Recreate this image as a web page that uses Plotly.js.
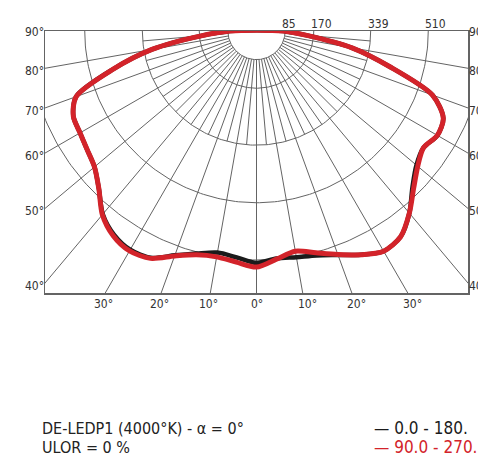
<!DOCTYPE html>
<html><head><meta charset="utf-8">
<script src="https://cdn.plot.ly/plotly-3.0.1.min.js"></script>
<style>html,body{margin:0;padding:0;background:#fff;}</style>
</head><body><div id="chart" style="width:478px;height:469px;"></div>
<script>
// ---- data (luminous intensity, cd, vs. gamma angle in degrees; negative = left half) ----
const gammaAngles = [-90,-85,-80,-75,-70,-65,-60,-55,-50,-45,-40,-35,-30,-25,-20,-15,-10,-5,0,5,10,15,20,25,30,35,40,45,50,55,60,65,70,75,80,85,90];
const intensityC0_180 = [79,165,315,443,570,600,605,614,628,662,710,738,750,743,709,684,668,675,689,678,682,690,708,733,755,746,706,655,620,605,620,612,556,410,288,150,79];
const intensityC90_270 = [79,165,315,443,570,600,605,614,628,662,712,742,754,745,711,688,681,689,701,680,664,682,706,733,755,746,706,660,625,605,620,612,556,410,288,150,79];
const seriesNames = ['0.0 - 180.', '90.0 - 270.'];
const seriesColors = ['#1b1b1b', '#d3232a'];
// grid
const circleValues = [85, 170, 339, 510, 680];
const circleLabels = ['85', '170', '339', '510'];
const majorAngles = [-80,-70,-60,-50,-40,-30,-20,-10,0,10,20,30,40,50,60,70,80];
const minorAngles = [-85,-75,-65,-55,-45,-35,-25,-15,-5,5,15,25,35,45,55,65,75,85];
const bottomAngleLabels = [-30,-20,-10,0,10,20,30];
const sideAngleLabels = [40,50,60,70,80,90];
const titleLine1 = 'DE-LEDP1 (4000°K) - α = 0°';
const titleLine2 = 'ULOR = 0 %';

const X_HALF = 628, Y_DEPTH = 778;
const rad = d => d * Math.PI / 180;
const px = (g, r) => r * Math.sin(rad(g));
const py = (g, r) => -r * Math.cos(rad(g));

// grid geometry
const gx = [], gy = [];
circleValues.forEach(r => {
  for (let g = -90; g <= 90; g += 1) { gx.push(px(g, r)); gy.push(py(g, r)); }
  gx.push(null); gy.push(null);
});
majorAngles.forEach(g => {
  gx.push(px(g, circleValues[0]), px(g, 2000), null);
  gy.push(py(g, circleValues[0]), py(g, 2000), null);
});
minorAngles.forEach(g => {
  gx.push(px(g, circleValues[0]), px(g, circleValues[2]), null);
  gy.push(py(g, circleValues[0]), py(g, circleValues[2]), null);
});

const traces = [{
  x: gx, y: gy, mode: 'lines', type: 'scatter', hoverinfo: 'skip', showlegend: false,
  line: {color: '#646464', width: 1}
}];
[intensityC0_180, intensityC90_270].forEach((vals, i) => {
  const xs = vals.map((v, k) => px(gammaAngles[k], v));
  const ys = vals.map((v, k) => py(gammaAngles[k], v));
  xs.push(xs[0]); ys.push(ys[0]);
  traces.push({
    x: xs, y: ys, mode: 'lines', type: 'scatter', name: seriesNames[i], showlegend: false,
    line: {color: seriesColors[i], width: i === 1 ? 5 : 4.5, shape: 'spline', smoothing: 0.8}
  });
});

const FAM = "'Liberation Sans Narrow', 'DejaVu Sans Condensed', 'DejaVu Sans', sans-serif";
const labFont = {family: FAM, size: 12, color: '#333'};
const ann = [];
circleLabels.forEach((t, i) => {
  ann.push({x: circleValues[i], xref: 'x', y: 1, yref: 'paper', text: t, showarrow: false,
    xanchor: 'left', yanchor: 'bottom', xshift: -5, yshift: -2, font: labFont});
});
bottomAngleLabels.forEach(a => {
  ann.push({x: Y_DEPTH * Math.tan(rad(a)), xref: 'x', y: 0, yref: 'paper', text: Math.abs(a) + '°',
    showarrow: false, xanchor: 'center', yanchor: 'top', xshift: a < 0 ? -2 : (a > 0 ? 5 : 0), yshift: -2, font: labFont});
});
sideAngleLabels.forEach(a => {
  const yv = a === 90 ? 0 : -X_HALF / Math.tan(rad(a));
  ann.push({x: 0, xref: 'paper', y: yv, yref: 'y', text: a + '°', showarrow: false,
    xanchor: 'right', yanchor: 'middle', xshift: 1, yshift: a === 90 ? -1 : -3, font: labFont});
  ann.push({x: 1, xref: 'paper', y: yv, yref: 'y', text: a + '°', showarrow: false,
    xanchor: 'left', yanchor: 'middle', xshift: -1, yshift: a === 90 ? -1 : -3, font: labFont});
});
const txtFont = {family: FAM, size: 16, color: '#222'};
ann.push({x: -5/423, xref: 'paper', y: -135/262, yref: 'paper', text: titleLine1, showarrow: false,
  xanchor: 'left', yanchor: 'middle', font: txtFont});
ann.push({x: -5/423, xref: 'paper', y: -154/262, yref: 'paper', text: titleLine2, showarrow: false,
  xanchor: 'left', yanchor: 'middle', font: txtFont});
seriesNames.forEach((n, i) => {
  ann.push({x: 327/423, xref: 'paper', y: (-135 - 19 * i)/262, yref: 'paper', text: '— ' + n, showarrow: false,
    xanchor: 'left', yanchor: 'middle', font: {family: FAM, size: 17, color: seriesColors[i]}});
});

const layout = {
  width: 478, height: 469,
  margin: {l: 45, r: 10, t: 31, b: 176},
  paper_bgcolor: '#fff', plot_bgcolor: '#fff',
  showlegend: false,
  xaxis: {range: [-X_HALF, X_HALF], showgrid: false, zeroline: false, showticklabels: false, ticks: '',
    showline: true, mirror: true, linecolor: '#646464', linewidth: 1.5, fixedrange: true},
  yaxis: {range: [-Y_DEPTH, 0], showgrid: false, zeroline: false, showticklabels: false, ticks: '',
    showline: true, mirror: true, linecolor: '#646464', linewidth: 1.5, fixedrange: true},
  annotations: ann
};
Plotly.newPlot('chart', traces, layout, {displayModeBar: false, staticPlot: true});
</script></body></html>
